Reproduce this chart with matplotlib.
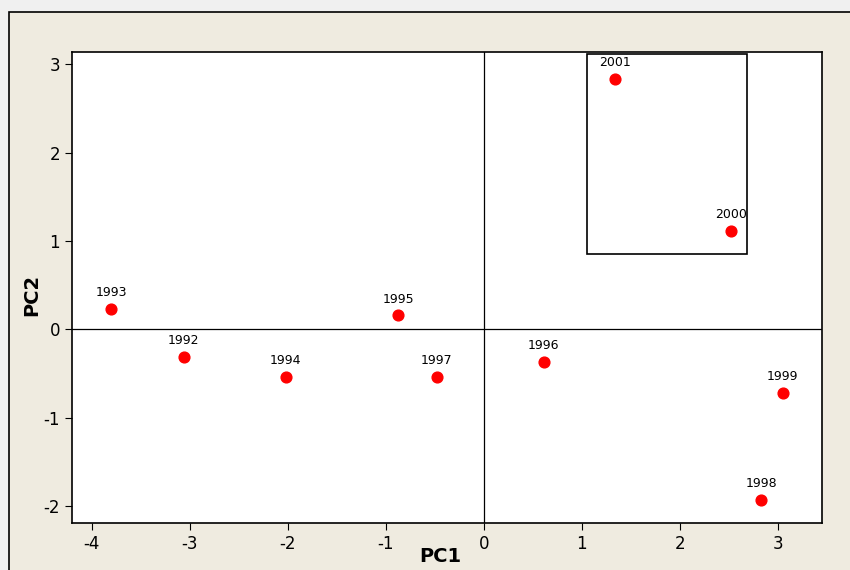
import matplotlib.pyplot as plt
from matplotlib.patches import Rectangle

plt.rcParams["axes.unicode_minus"] = False

years = ["1993", "1992", "1994", "1995", "1997", "1996", "1999", "1998", "2000", "2001"]
pc1 = [-3.80, -3.06, -2.02, -0.87, -0.48, 0.61, 3.05, 2.83, 2.52, 1.34]
pc2 = [0.23, -0.31, -0.54, 0.16, -0.54, -0.37, -0.72, -1.93, 1.12, 2.84]

W, H = 850, 570
fig = plt.figure(figsize=(W / 100, H / 100), dpi=100)
fig.patch.set_facecolor("#f0f0f0")
# beige panel with a black outline, cut off at right and bottom
fig.patches.append(Rectangle((9 / W, -0.1), 1.1, 1 - 12 / H + 0.1, transform=fig.transFigure,
                             facecolor="#efebe0", edgecolor="black", linewidth=1.2, zorder=-5))

ax = fig.add_axes([72 / W, 1 - 523 / H, 750 / W, 471 / H])
ax.set_zorder(2)
ax.set_facecolor("white")
ax.set_xlim(-4.2, 3.45)
ax.set_ylim(-2.19, 3.14)

ax.axhline(0, color="black", linewidth=0.9)
ax.axvline(0, color="black", linewidth=0.9)

ax.scatter(pc1, pc2, s=60, color="#ff0000", zorder=3)
for x, y, t in zip(pc1, pc2, years):
    ax.annotate(t, (x, y), xytext=(0, 7), textcoords="offset points",
                ha="center", va="bottom", fontsize=9)

# box around 2000/2001
ax.add_patch(Rectangle((1.05, 0.85), 1.64, 2.27, fill=False, edgecolor="black", linewidth=1.2))

ax.set_xticks(range(-4, 4))
ax.set_yticks(range(-2, 4))
ax.tick_params(direction="out", length=5, labelsize=12)
for s in ax.spines.values():
    s.set_linewidth(1.2)

fig.text(440 / W, 1 - 556 / H, "PC1", fontsize=14, fontweight="bold", ha="center", va="center")
fig.text(32 / W, 1 - 295 / H, "PC2", fontsize=14, fontweight="bold", ha="center", va="center",
         rotation=90)

plt.savefig("out.png", dpi=100)
plt.close()
